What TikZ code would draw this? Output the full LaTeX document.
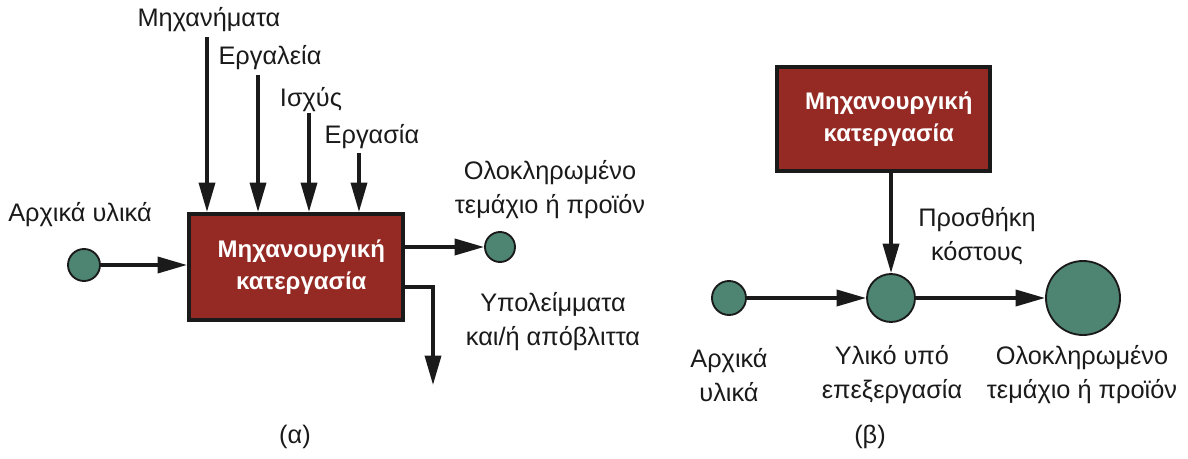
\documentclass[tikz,border=0pt]{standalone}
\usepackage{fontspec}
\setmainfont{Liberation Sans}
\usetikzlibrary{arrows.meta,calc}
\definecolor{procred}{HTML}{952A24}
\definecolor{matgreen}{HTML}{4E8472}
\definecolor{ink}{HTML}{1A1A1A}
% sizes below are in pt; one drawing unit is 0.75pt
\tikzset{
  procbox/.style={draw=ink, fill=procred, line width=3pt, minimum width=160.5pt, minimum height=79.5pt,
    text=white, font=\fontsize{18}{23.5}\selectfont\bfseries, align=center, inner sep=0pt},
  part/.style={circle, draw=ink, fill=matgreen, line width=1.4pt, inner sep=0pt},
  flow/.style={draw=ink, line width=2.6pt, -{Triangle[length=22pt,width=12pt]}},
  lbl/.style={font=\fontsize{19}{25.5}\selectfont, text=ink, align=center, inner sep=0pt},
}
\begin{document}
\begin{tikzpicture}[x=0.75pt,y=-0.75pt]
\useasboundingbox (0,0) rectangle (1188,459);

% ---- (a) machining as a process ----
\node[procbox] (boxA) at (296,267) {\hspace*{8pt}Μηχανουργική\\\hspace*{8pt}κατεργασία};
\node[part, minimum size=24pt] (rawA) at (84,265) {};
\node[part, minimum size=22.5pt] (doneA) at (500,247) {};

\node[lbl] (lRawA) at (80,215) {Αρχικά υλικά};
\node[lbl] (lMach) at (209,20) {Μηχανήματα};
\node[lbl] (lTool) at (270,58) {Εργαλεία};
\node[lbl] (lPow) at (311,100) {Ισχύς};
\node[lbl] (lLab) at (372,137) {Εργασία};
\node[lbl] (lDoneA) at (550,190) {Ολοκληρωμένο\\τεμάχιο ή προϊόν};
\node[lbl] (lWaste) at (553,322) {Υπολείμματα\\και/ή απόβλιττα};
\node[lbl] (capA) at (295,437) {(α)};

\coordinate (inMach) at (207,37);
\coordinate (inTool) at (258,75);
\coordinate (inPow) at (309,113);
\coordinate (inLab) at (359,153);
\draw[flow] (inMach) -- (inMach |- boxA.north);
\draw[flow] (inTool) -- (inTool |- boxA.north);
\draw[flow] (inPow) -- (inPow |- boxA.north);
\draw[flow] (inLab) -- (inLab |- boxA.north);

\draw[flow] (rawA) -- (rawA -| boxA.west);
\draw[flow] (doneA -| boxA.east) -- (doneA);

\coordinate (wasteOut) at (405,287);
\coordinate (wasteEnd) at (433,385);
\draw[flow] (wasteOut) -- (wasteOut -| wasteEnd) -- (wasteEnd);

% ---- (b) value added during processing ----
\node[procbox, minimum width=160pt, minimum height=78pt] (boxB) at (883.5,119) {\hspace*{8pt}Μηχανουργική\\\hspace*{8pt}κατεργασία};
\node[part, minimum size=25.5pt] (rawB) at (729,298) {};
\node[part, minimum size=36pt] (wipB) at (891,298) {};
\node[part, minimum size=55.5pt] (doneB) at (1083,298) {};

\draw[flow] (wipB |- boxB.south) -- (wipB);
\draw[flow] (rawB) -- (wipB);
\draw[flow] (wipB) -- (doneB);

\node[lbl] (lCost) at (977,236) {Προσθήκη\\κόστους};
\node[lbl] (lRawB) at (729,375) {Αρχικά\\υλικά};
\node[lbl] (lWip) at (892,375) {Υλικό υπό\\επεξεργασία};
\node[lbl] (lDoneB) at (1082,375) {Ολοκληρωμένο\\τεμάχιο ή προϊόν};
\node[lbl] (capB) at (870,437) {(β)};
\end{tikzpicture}
\end{document}
